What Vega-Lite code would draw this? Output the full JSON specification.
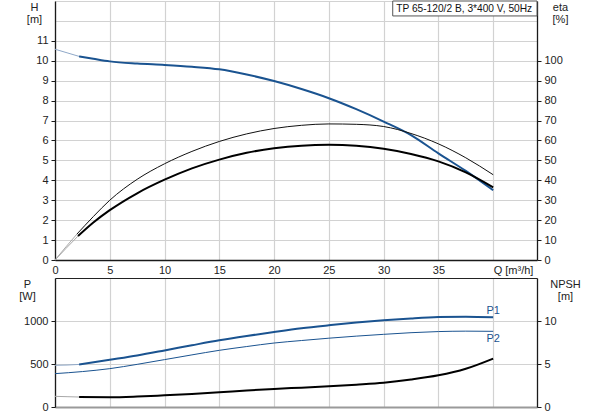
{
  "$schema": "https://vega.github.io/schema/vega-lite/v6.json",
  "background": "white",
  "padding": {"left": 18, "top": 0, "right": 5, "bottom": 5},
  "bounds": "flush",
  "spacing": 18,
  "datasets": {
    "top": [
      {"Q": 0, "v": 10.58, "s": "H_ext"}, {"Q": 1.1, "v": 10.4, "s": "H_ext"}, {"Q": 2.2, "v": 10.22, "s": "H_ext"},
      {"Q": 2.2, "v": 10.22, "s": "H"}, {"Q": 3.5, "v": 10.1, "s": "H"}, {"Q": 5, "v": 9.97, "s": "H"},
      {"Q": 7.5, "v": 9.86, "s": "H"}, {"Q": 10, "v": 9.79, "s": "H"}, {"Q": 12.5, "v": 9.7, "s": "H"},
      {"Q": 15, "v": 9.57, "s": "H"}, {"Q": 17.5, "v": 9.31, "s": "H"}, {"Q": 20, "v": 8.98, "s": "H"},
      {"Q": 22.5, "v": 8.58, "s": "H"}, {"Q": 25, "v": 8.12, "s": "H"}, {"Q": 27.5, "v": 7.57, "s": "H"},
      {"Q": 30, "v": 6.95, "s": "H"}, {"Q": 32.5, "v": 6.27, "s": "H"}, {"Q": 35, "v": 5.35, "s": "H"},
      {"Q": 37.5, "v": 4.47, "s": "H"}, {"Q": 40, "v": 3.5, "s": "H"},
      {"Q": 0, "v": 0, "s": "eta1_ext"}, {"Q": 1, "v": 6.6, "s": "eta1_ext"}, {"Q": 2, "v": 13, "s": "eta1_ext"},
      {"Q": 2, "v": 13, "s": "eta1"}, {"Q": 3.5, "v": 21.8, "s": "eta1"}, {"Q": 5, "v": 30, "s": "eta1"},
      {"Q": 7.5, "v": 40.5, "s": "eta1"}, {"Q": 10, "v": 48.3, "s": "eta1"}, {"Q": 12.5, "v": 54.5, "s": "eta1"},
      {"Q": 15, "v": 59.5, "s": "eta1"}, {"Q": 17.5, "v": 63.3, "s": "eta1"}, {"Q": 20, "v": 66, "s": "eta1"},
      {"Q": 22.5, "v": 67.6, "s": "eta1"}, {"Q": 25, "v": 68.3, "s": "eta1"}, {"Q": 27.5, "v": 68.1, "s": "eta1"},
      {"Q": 30, "v": 67, "s": "eta1"}, {"Q": 32.5, "v": 63.5, "s": "eta1"}, {"Q": 35, "v": 58.3, "s": "eta1"},
      {"Q": 37.5, "v": 51.3, "s": "eta1"}, {"Q": 40, "v": 42.8, "s": "eta1"},
      {"Q": 0, "v": 0, "s": "eta2_ext"}, {"Q": 1, "v": 5.8, "s": "eta2_ext"}, {"Q": 2.1, "v": 12, "s": "eta2_ext"},
      {"Q": 2.1, "v": 12, "s": "eta2"}, {"Q": 3.5, "v": 18.8, "s": "eta2"}, {"Q": 5, "v": 25, "s": "eta2"},
      {"Q": 7.5, "v": 33.5, "s": "eta2"}, {"Q": 10, "v": 40.3, "s": "eta2"}, {"Q": 12.5, "v": 46, "s": "eta2"},
      {"Q": 15, "v": 50.4, "s": "eta2"}, {"Q": 17.5, "v": 53.8, "s": "eta2"}, {"Q": 20, "v": 56.1, "s": "eta2"},
      {"Q": 22.5, "v": 57.4, "s": "eta2"}, {"Q": 25, "v": 57.8, "s": "eta2"}, {"Q": 27.5, "v": 57.3, "s": "eta2"},
      {"Q": 30, "v": 55.8, "s": "eta2"}, {"Q": 32.5, "v": 53.2, "s": "eta2"}, {"Q": 35, "v": 49.5, "s": "eta2"},
      {"Q": 37.5, "v": 44, "s": "eta2"}, {"Q": 40, "v": 36.5, "s": "eta2"}
    ],
    "bottom": [
      {"Q": 0, "v": 485, "s": "P1_ext"}, {"Q": 1.1, "v": 488, "s": "P1_ext"}, {"Q": 2.2, "v": 495, "s": "P1_ext"},
      {"Q": 2.2, "v": 495, "s": "P1"}, {"Q": 5, "v": 550, "s": "P1"}, {"Q": 7.5, "v": 600, "s": "P1"},
      {"Q": 10, "v": 658, "s": "P1"}, {"Q": 12.5, "v": 718, "s": "P1"}, {"Q": 15, "v": 776, "s": "P1"},
      {"Q": 17.5, "v": 826, "s": "P1"}, {"Q": 20, "v": 872, "s": "P1"}, {"Q": 22.5, "v": 915, "s": "P1"},
      {"Q": 25, "v": 950, "s": "P1"}, {"Q": 27.5, "v": 982, "s": "P1"}, {"Q": 30, "v": 1008, "s": "P1"},
      {"Q": 32.5, "v": 1030, "s": "P1"}, {"Q": 35, "v": 1046, "s": "P1"}, {"Q": 37.5, "v": 1050, "s": "P1"},
      {"Q": 40, "v": 1043, "s": "P1"},
      {"Q": 0, "v": 388, "s": "P2"}, {"Q": 2.5, "v": 412, "s": "P2"}, {"Q": 5, "v": 446, "s": "P2"},
      {"Q": 7.5, "v": 496, "s": "P2"}, {"Q": 10, "v": 551, "s": "P2"}, {"Q": 12.5, "v": 606, "s": "P2"},
      {"Q": 15, "v": 659, "s": "P2"}, {"Q": 17.5, "v": 703, "s": "P2"}, {"Q": 20, "v": 744, "s": "P2"},
      {"Q": 22.5, "v": 773, "s": "P2"}, {"Q": 25, "v": 800, "s": "P2"}, {"Q": 27.5, "v": 824, "s": "P2"},
      {"Q": 30, "v": 845, "s": "P2"}, {"Q": 32.5, "v": 864, "s": "P2"}, {"Q": 35, "v": 877, "s": "P2"},
      {"Q": 37.5, "v": 882, "s": "P2"}, {"Q": 40, "v": 880, "s": "P2"},
      {"Q": 0, "v": 1.24, "s": "NPSH_ext"}, {"Q": 1.1, "v": 1.2, "s": "NPSH_ext"}, {"Q": 2.2, "v": 1.16, "s": "NPSH_ext"},
      {"Q": 2.2, "v": 1.16, "s": "NPSH"}, {"Q": 5, "v": 1.14, "s": "NPSH"}, {"Q": 7.5, "v": 1.22, "s": "NPSH"},
      {"Q": 10, "v": 1.36, "s": "NPSH"}, {"Q": 12.5, "v": 1.52, "s": "NPSH"}, {"Q": 15, "v": 1.71, "s": "NPSH"},
      {"Q": 17.5, "v": 1.92, "s": "NPSH"}, {"Q": 20, "v": 2.1, "s": "NPSH"}, {"Q": 22.5, "v": 2.25, "s": "NPSH"},
      {"Q": 25, "v": 2.4, "s": "NPSH"}, {"Q": 27.5, "v": 2.6, "s": "NPSH"}, {"Q": 30, "v": 2.83, "s": "NPSH"},
      {"Q": 32.5, "v": 3.2, "s": "NPSH"}, {"Q": 35, "v": 3.69, "s": "NPSH"}, {"Q": 37.5, "v": 4.45, "s": "NPSH"},
      {"Q": 40, "v": 5.63, "s": "NPSH"}
    ]
  },
  "vconcat": [
    {
      "width": 482,
      "height": 259,
      "layer": [
        {
          "data": {"name": "top"},
          "transform": [{"filter": "datum.s == 'H' || datum.s == 'H_ext'"}],
          "mark": {"type": "line", "interpolate": "monotone"},
          "encoding": {
            "x": {
              "field": "Q",
              "type": "quantitative",
              "scale": {"domain": [0, 44], "nice": false, "zero": false},
              "axis": {
                "title": null,
                "values": [0, 5, 10, 15, 20, 25, 30, 35, 40],
                "grid": true,
                "ticks": false,
                "tickSize": 0,
                "labelPadding": 4,
                "labelFlush": false,
                "labelExpr": "datum.value == 40 ? 'Q [m³/h]' : datum.label",
                "labelAlign": {"condition": {"test": "datum.value == 40", "value": "left"}, "value": "center"}
              }
            },
            "y": {
              "field": "v",
              "type": "quantitative",
              "scale": {"domain": [0, 13], "nice": false},
              "axis": {
                "values": [0, 1, 2, 3, 4, 5, 6, 7, 8, 9, 10, 11, 12, 13],
                "labelExpr": "datum.value > 11 ? '' : datum.label",
                "tickOpacity": {"condition": {"test": "datum.value > 11", "value": 0}, "value": 1},
                "grid": true,
                "title": ["H", "[m]"],
                "titleAngle": 0,
                "titleAlign": "center",
                "titleBaseline": "top",
                "titleX": -21,
                "titleY": 0
              }
            },
            "color": {
              "field": "s",
              "type": "nominal",
              "scale": {
                "domain": ["H", "H_ext", "NPSH", "NPSH_ext", "P1", "P1_ext", "P2", "eta1", "eta1_ext", "eta2", "eta2_ext"],
                "range": ["#1a5390", "#8fa8c8", "#000000", "#a8a8a8", "#1a5390", "#8fa8c8", "#1a5390", "#111111", "#a8a8a8", "#000000", "#a8a8a8"]
              },
              "legend": null
            },
            "strokeWidth": {
              "field": "s",
              "type": "nominal",
              "scale": {
                "type": "ordinal",
                "domain": ["H", "H_ext", "NPSH", "NPSH_ext", "P1", "P1_ext", "P2", "eta1", "eta1_ext", "eta2", "eta2_ext"],
                "range": [2, 1, 2, 1, 2, 1, 1, 1, 1, 2, 1]
              },
              "legend": null
            }
          }
        },
        {
          "data": {"name": "top"},
          "transform": [{"filter": "datum.s != 'H' && datum.s != 'H_ext'"}],
          "mark": {"type": "line", "interpolate": "monotone"},
          "encoding": {
            "x": {"field": "Q", "type": "quantitative"},
            "y": {
              "field": "v",
              "type": "quantitative",
              "scale": {"domain": [0, 130], "nice": false},
              "axis": {
                "orient": "right",
                "values": [0, 10, 20, 30, 40, 50, 60, 70, 80, 90, 100],
                "grid": false,
                "title": ["eta", "[%]"],
                "titleAngle": 0,
                "titleAlign": "center",
                "titleBaseline": "top",
                "titleX": 23,
                "titleY": 0
              }
            },
            "color": {
              "field": "s",
              "type": "nominal",
              "scale": {
                "domain": ["H", "H_ext", "NPSH", "NPSH_ext", "P1", "P1_ext", "P2", "eta1", "eta1_ext", "eta2", "eta2_ext"],
                "range": ["#1a5390", "#8fa8c8", "#000000", "#a8a8a8", "#1a5390", "#8fa8c8", "#1a5390", "#111111", "#a8a8a8", "#000000", "#a8a8a8"]
              },
              "legend": null
            },
            "strokeWidth": {
              "field": "s",
              "type": "nominal",
              "scale": {
                "type": "ordinal",
                "domain": ["H", "H_ext", "NPSH", "NPSH_ext", "P1", "P1_ext", "P2", "eta1", "eta1_ext", "eta2", "eta2_ext"],
                "range": [2, 1, 2, 1, 2, 1, 1, 1, 1, 2, 1]
              },
              "legend": null
            }
          }
        },
        {
          "data": {"values": [{}]},
          "mark": {"type": "rect", "fill": "white", "stroke": "#555555", "strokeWidth": 1},
          "encoding": {
            "x": {"datum": 30.83},
            "x2": {"datum": 44},
            "y": {"datum": 13, "scale": {"domain": [0, 13], "nice": false}, "axis": null},
            "y2": {"datum": 12.25}
          }
        },
        {
          "data": {"values": [{}]},
          "mark": {"type": "text", "align": "left", "baseline": "middle", "fontSize": 10.2, "color": "#111111"},
          "encoding": {
            "x": {"datum": 31.15},
            "y": {"datum": 12.62, "scale": {"domain": [0, 13], "nice": false}, "axis": null},
            "text": {"value": "TP 65-120/2 B, 3*400 V, 50Hz"}
          }
        }
      ],
      "resolve": {"scale": {"y": "independent"}}
    },
    {
      "width": 482,
      "height": 129,
      "layer": [
        {
          "data": {"name": "bottom"},
          "transform": [{"filter": "datum.s != 'NPSH' && datum.s != 'NPSH_ext'"}],
          "mark": {"type": "line", "interpolate": "monotone"},
          "encoding": {
            "x": {
              "field": "Q",
              "type": "quantitative",
              "scale": {"domain": [0, 44], "nice": false, "zero": false},
              "axis": {
                "title": null,
                "values": [0, 5, 10, 15, 20, 25, 30, 35, 40],
                "grid": true,
                "labels": false,
                "ticks": false,
                "tickSize": 0,
                "domainColor": "#9a9a9a",
                "domainWidth": 2
              }
            },
            "y": {
              "field": "v",
              "type": "quantitative",
              "scale": {"domain": [0, 1500], "nice": false},
              "axis": {
                "values": [0, 500, 1000, 1500],
                "format": "d",
                "labelExpr": "datum.value > 1000 ? '' : datum.label",
                "tickOpacity": {"condition": {"test": "datum.value > 1000", "value": 0}, "value": 1},
                "gridColor": {"condition": {"test": "datum.value > 1000", "value": "#222222"}, "value": "#d2d2d2"},
                "grid": true,
                "title": ["P", "[W]"],
                "titleAngle": 0,
                "titleAlign": "center",
                "titleBaseline": "top",
                "titleX": -28,
                "titleY": 0
              }
            },
            "color": {
              "field": "s",
              "type": "nominal",
              "scale": {
                "domain": ["H", "H_ext", "NPSH", "NPSH_ext", "P1", "P1_ext", "P2", "eta1", "eta1_ext", "eta2", "eta2_ext"],
                "range": ["#1a5390", "#8fa8c8", "#000000", "#a8a8a8", "#1a5390", "#8fa8c8", "#1a5390", "#111111", "#a8a8a8", "#000000", "#a8a8a8"]
              },
              "legend": null
            },
            "strokeWidth": {
              "field": "s",
              "type": "nominal",
              "scale": {
                "type": "ordinal",
                "domain": ["H", "H_ext", "NPSH", "NPSH_ext", "P1", "P1_ext", "P2", "eta1", "eta1_ext", "eta2", "eta2_ext"],
                "range": [2, 1, 2, 1, 2, 1, 1, 1, 1, 2, 1]
              },
              "legend": null
            }
          }
        },
        {
          "data": {"name": "bottom"},
          "transform": [{"filter": "datum.s == 'NPSH' || datum.s == 'NPSH_ext'"}],
          "mark": {"type": "line", "interpolate": "monotone"},
          "encoding": {
            "x": {"field": "Q", "type": "quantitative"},
            "y": {
              "field": "v",
              "type": "quantitative",
              "scale": {"domain": [0, 15], "nice": false},
              "axis": {
                "orient": "right",
                "values": [0, 5, 10],
                "grid": false,
                "title": ["NPSH", "[m]"],
                "titleAngle": 0,
                "titleAlign": "center",
                "titleBaseline": "top",
                "titleX": 28,
                "titleY": 0
              }
            },
            "color": {
              "field": "s",
              "type": "nominal",
              "scale": {
                "domain": ["H", "H_ext", "NPSH", "NPSH_ext", "P1", "P1_ext", "P2", "eta1", "eta1_ext", "eta2", "eta2_ext"],
                "range": ["#1a5390", "#8fa8c8", "#000000", "#a8a8a8", "#1a5390", "#8fa8c8", "#1a5390", "#111111", "#a8a8a8", "#000000", "#a8a8a8"]
              },
              "legend": null
            },
            "strokeWidth": {
              "field": "s",
              "type": "nominal",
              "scale": {
                "type": "ordinal",
                "domain": ["H", "H_ext", "NPSH", "NPSH_ext", "P1", "P1_ext", "P2", "eta1", "eta1_ext", "eta2", "eta2_ext"],
                "range": [2, 1, 2, 1, 2, 1, 1, 1, 1, 2, 1]
              },
              "legend": null
            }
          }
        },
        {
          "data": {"values": [{}]},
          "mark": {"type": "text", "align": "center", "baseline": "middle", "fontSize": 11, "color": "#1a5390"},
          "encoding": {
            "x": {"datum": 40},
            "y": {"datum": 1120, "scale": {"domain": [0, 1500], "nice": false}, "axis": null},
            "text": {"value": "P1"}
          }
        },
        {
          "data": {"values": [{}]},
          "mark": {"type": "text", "align": "center", "baseline": "middle", "fontSize": 11, "color": "#1a5390"},
          "encoding": {
            "x": {"datum": 40},
            "y": {"datum": 790, "scale": {"domain": [0, 1500], "nice": false}, "axis": null},
            "text": {"value": "P2"}
          }
        }
      ],
      "resolve": {"scale": {"y": "independent"}}
    }
  ],
  "config": {
    "font": "Liberation Sans",
    "view": {"stroke": null},
    "axis": {
      "labelFont": "Liberation Sans",
      "labelFontSize": 11,
      "labelColor": "#222222",
      "titleFont": "Liberation Sans",
      "titleFontSize": 11,
      "titleFontWeight": "normal",
      "titleColor": "#222222",
      "titleLineHeight": 12,
      "domainColor": "#1a1a1a",
      "domainWidth": 1.3,
      "tickColor": "#1a1a1a",
      "tickSize": 4,
      "labelPadding": 3,
      "gridColor": "#d2d2d2",
      "gridWidth": 1.2
    }
  }
}
